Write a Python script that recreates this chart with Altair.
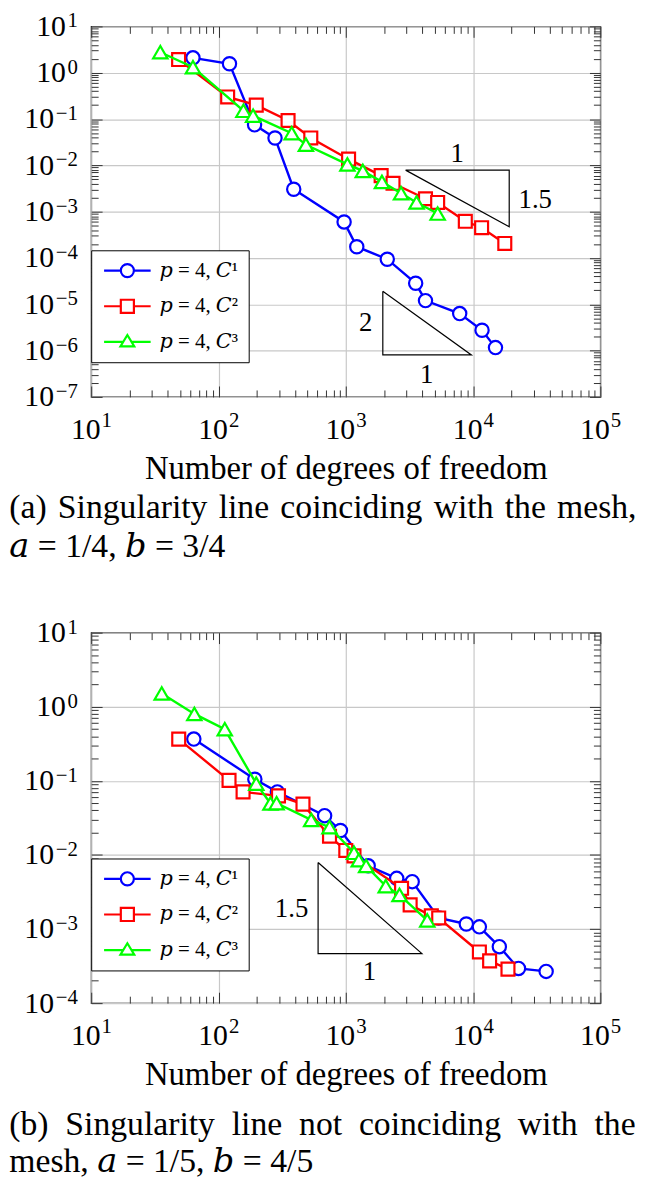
import altair as alt
import pandas as pd

FONT = "Liberation Serif, DejaVu Serif"

SERIES = ["𝑝 = 4, 𝐶¹", "𝑝 = 4, 𝐶²", "𝑝 = 4, 𝐶³"]
COLORS = ["#0000ff", "#ff0000", "#00ff00"]
SHAPES = ["circle", "square", "triangle-up"]
SIZES = [180, 170, 210]

# ---------------- panel (a) ----------------
A_C1_DOF = [63, 122, 192, 278, 390, 970, 1220, 2118, 3540, 4228, 7850, 11760, 15000]
A_C1_ERR = [2.1, 1.56, 0.075, 0.039, 0.00305, 6.0e-4, 1.75e-4, 9.4e-5, 2.84e-5, 1.2e-5, 6.3e-6, 2.75e-6, 1.16e-6]
A_C2_DOF = [48.6, 118, 198, 352, 531, 1052, 1896, 2350, 4228, 5270, 8690, 11670, 17750]
A_C2_ERR = [1.93, 0.30, 0.20, 0.093, 0.039, 0.0136, 0.006, 0.0041, 0.0019, 0.00158, 6.2e-4, 4.5e-4, 2.06e-4]
A_C3_DOF = [34.9, 63, 157, 187, 376, 486, 1030, 1361, 1924, 2718, 3597, 5270]
A_C3_ERR = [2.77, 1.32, 0.151, 0.118, 0.0496, 0.0279, 0.0105, 0.0076, 0.0044, 0.0025, 0.00158, 9.1e-4]

A_TRI_ID = ["t1", "t1", "t1", "t1", "t2", "t2", "t2", "t2"]
A_TRI_X = [2950, 19230, 19230, 2950, 1954, 1954, 9700, 1954]
A_TRI_Y = [0.00789, 0.00789, 0.00047, 0.00789, 1.91e-5, 8.05e-7, 8.05e-7, 1.91e-5]
A_TRI_TEXT = ["1", "1.5", "2", "1"]
A_TRI_TEXT_X = [7500, 30800, 1435, 4325]
A_TRI_TEXT_Y = [0.0179, 0.0018, 3.96e-6, 3.0e-7]

A_CAPTION = ["(a)\u200a Singularity\u200a line\u200a coinciding\u200a with\u200a the\u200a mesh,",
             "𝑎 = 1/4, 𝑏 = 3/4"]

# ---------------- panel (b) ----------------
B_C1_DOF = [64, 193, 290, 682, 908, 1500, 2512, 3325, 5370, 8850, 11210, 16080, 22740, 37500]
B_C1_ERR = [0.366, 0.105, 0.071, 0.0339, 0.0214, 0.00713, 0.00483, 0.00436, 0.00141, 0.00117, 0.00107, 5.78e-4, 2.94e-4, 2.68e-4]
B_C2_DOF = [48.7, 121, 156, 296, 461, 745, 1000, 1160, 2743, 3204, 4700, 5370, 11210, 13490, 18800]
B_C2_ERR = [0.366, 0.1016, 0.071, 0.0627, 0.0485, 0.0179, 0.0115, 0.0097, 0.00355, 0.00212, 0.00151, 0.00141, 4.9e-4, 3.72e-4, 2.88e-4]
B_C3_DOF = [35.8, 64.6, 112, 198, 256, 286, 535, 745, 1160, 1265, 1445, 2060, 2643, 4365]
B_C3_ERR = [1.51, 0.80, 0.498, 0.0917, 0.0495, 0.05, 0.0297, 0.0237, 0.0107, 0.0085, 0.0071, 0.0038, 0.00289, 0.00131]

B_TRI_ID = ["t1", "t1", "t1", "t1"]
B_TRI_X = [606, 606, 3963, 606]
B_TRI_Y = [0.0079, 0.000466, 0.000466, 0.0079]
B_TRI_TEXT = ["1.5", "1"]
B_TRI_TEXT_X = [375, 1535]
B_TRI_TEXT_Y = [0.00188, 0.00026]

B_CAPTION = ["(b)\u2005 Singularity\u2005 line\u2005 not\u2005 coinciding\u2005 with\u2005 the",
             "mesh, 𝑎 = 1/5, 𝑏 = 4/5"]

# ---------------- axes ----------------
X_DOMAIN = [10, 1e5]
X_EXPONENTS = ["1", "2", "3", "4", "5"]
A_Y_EXPONENTS = ["−7", "−6", "−5", "−4", "−3", "−2", "−1", "0", "1"]
B_Y_EXPONENTS = ["−4", "−3", "−2", "−1", "0", "1"]
TICK_BASE = "10"

W, H = 514, 374
GRID = "#c8c8c8"
TICK_COLOR = "#333333"
MAJOR_LEN, MINOR_LEN = 11, 7
BASE_FS, EXP_FS = 30, 21
EXP_W_POS, EXP_W_NEG = 11, 23

# legend symbols: line with marker (custom paths, unit = sqrt(size)/2 px)
C, R = 2.133, 0.88
LEG_PATHS = [
    f"M-1,0L{C-R:.3f},0M{C+R:.3f},0L5.267,0M{C+R:.3f},0A{R},{R} 0 1 1 {C-R:.3f},0A{R},{R} 0 1 1 {C+R:.3f},0Z",
    f"M-1,0L{C-R:.3f},0M{C+R:.3f},0L5.267,0M{C-R:.3f},{-R}L{C+R:.3f},{-R}L{C+R:.3f},{R}L{C-R:.3f},{R}Z",
    f"M-1,0L1.563,0M2.703,0L5.267,0M{C},-0.93L3.063,0.6L1.203,0.6Z",
]


def majors(lo, hi):
    return [10.0 ** e for e in range(lo, hi + 1)]


def minors(lo, hi):
    return [m * 10.0 ** e for e in range(lo, hi) for m in range(2, 10)]


def exp_expr(labels, lo):
    arr = ",".join("'" + s + "'" for s in labels)
    return f"[{arr}][round(log(datum.value)/LN10) - ({lo})]"


def tick_axis(orient, values, length):
    return alt.Axis(orient=orient, values=values, labels=False, grid=False, domain=False,
                    ticks=True, tickSize=length, offset=-length, tickColor=TICK_COLOR,
                    tickWidth=1, title=None, minExtent=0)


def label_axis(orient, values, expr, size, padding, offset, align, baseline, grid=False, title=None):
    kw = dict(orient=orient, values=values, labelExpr=expr, grid=grid, ticks=False, domain=False,
              labelFont=FONT, labelFontSize=size, labelColor="black", labelPadding=padding,
              labelOffset=offset, labelAlign=align, labelBaseline=baseline,
              labelFlush=False, labelOverlap=False, labelBound=False, minExtent=0)
    if grid:
        kw.update(gridColor=GRID, gridWidth=1.2)
    if title:
        kw.update(title=title, titleFont=FONT, titleFontSize=33, titleFontWeight="normal",
                  titleColor="black", titlePadding=8)
    else:
        kw.update(title=None)
    return alt.Axis(**kw)


def panel(series, y_lo, y_hi, y_exps, tri, tri_text, legend_y, caption, cap_x, cap_y, cap_lh):
    xs = alt.Scale(type="log", domain=X_DOMAIN, nice=False)
    ys = alt.Scale(type="log", domain=[10.0 ** y_lo, 10.0 ** y_hi], nice=False)
    xmaj, xmin = majors(1, 5), minors(1, 5)
    ymaj, ymin = majors(y_lo, y_hi), minors(y_lo, y_hi)
    y_pos = [v for v in ymaj if v >= 1]
    y_neg = [v for v in ymaj if v < 1]

    base_w = BASE_FS  # two digits, 0.5em each
    x_base = label_axis("bottom", xmaj, f"'{TICK_BASE}'", BASE_FS, 42, -(EXP_W_POS + 1) / 2,
                        "center", "alphabetic", title="Number of degrees of freedom")
    x_exp = label_axis("bottom", xmaj, exp_expr(X_EXPONENTS, 1), EXP_FS, 30,
                       base_w / 2 - (EXP_W_POS + 1) / 2 + 1, "left", "alphabetic", grid=True)
    y_base_pos = label_axis("left", y_pos, f"'{TICK_BASE}'", BASE_FS, 14 + EXP_W_POS + 1, 0,
                            "right", "middle")
    y_base_neg = label_axis("left", y_neg, f"'{TICK_BASE}'", BASE_FS, 14 + EXP_W_NEG + 1, 0,
                            "right", "middle")
    y_exp = label_axis("left", ymaj, exp_expr(y_exps, y_lo), EXP_FS, 14, -5.5, "right", "middle",
                       grid=True)

    # (x axis, y axis) carried by each layer
    carriers = [
        (x_base, y_base_pos),
        (x_exp, y_base_neg),
        (tick_axis("bottom", xmaj, MAJOR_LEN), y_exp),
        (tick_axis("bottom", xmin, MINOR_LEN), tick_axis("left", ymaj, MAJOR_LEN)),
        (tick_axis("top", xmaj, MAJOR_LEN), tick_axis("left", ymin, MINOR_LEN)),
        (tick_axis("top", xmin, MINOR_LEN), tick_axis("right", ymaj, MAJOR_LEN)),
        (None, tick_axis("right", ymin, MINOR_LEN)),
    ]

    layers = []
    for (dof, err), color, shape, size, (xa, ya) in zip(series, COLORS, SHAPES, SIZES, carriers[:3]):
        df = pd.DataFrame({"dof": dof, "err": err, "i": list(range(len(dof)))})
        layers.append(
            alt.Chart(df).mark_line(
                color=color, strokeWidth=2.4,
                point=alt.OverlayMarkDef(shape=shape, filled=False, fill="white", stroke=color,
                                         size=size, strokeWidth=2.2, opacity=1),
            ).encode(
                x=alt.X("dof:Q", scale=xs, axis=xa),
                y=alt.Y("err:Q", scale=ys, axis=ya),
                order="i:Q",
            )
        )

    leg = alt.Legend(orient="none", legendX=0, legendY=legend_y, title=None, padding=10,
                     strokeColor="black", fillColor="white", cornerRadius=0,
                     labelFont=FONT, labelFontSize=21, labelColor="black", labelOffset=38,
                     labelLimit=0, symbolSize=225, symbolStrokeWidth=2.2, symbolOpacity=1,
                     rowPadding=13, direction="vertical")
    leg_df = pd.DataFrame({"series": SERIES, "dof": [100, 100, 100], "err": [1, 1, 1]})
    xa, ya = carriers[3]
    layers.append(
        alt.Chart(leg_df).transform_filter("false").mark_point(filled=False, strokeWidth=2.2).encode(
            x=alt.X("dof:Q", scale=xs, axis=xa),
            y=alt.Y("err:Q", scale=ys, axis=ya),
            stroke=alt.Stroke("series:N", scale=alt.Scale(domain=SERIES, range=COLORS), legend=leg),
            shape=alt.Shape("series:N", scale=alt.Scale(domain=SERIES, range=LEG_PATHS), legend=leg),
        )
    )

    tri_id, tri_x, tri_y = tri
    tdf = pd.DataFrame({"tri": tri_id, "dof": tri_x, "err": tri_y, "k": list(range(len(tri_x)))})
    xa, ya = carriers[4]
    layers.append(
        alt.Chart(tdf).mark_line(color="black", strokeWidth=1.2).encode(
            x=alt.X("dof:Q", scale=xs, axis=xa),
            y=alt.Y("err:Q", scale=ys, axis=ya),
            detail="tri:N", order="k:Q",
        )
    )

    txt, tx, ty = tri_text
    ldf = pd.DataFrame({"t": txt, "dof": tx, "err": ty})
    xa, ya = carriers[5]
    layers.append(
        alt.Chart(ldf).mark_text(font=FONT, fontSize=27, color="black").encode(
            x=alt.X("dof:Q", scale=xs, axis=xa),
            y=alt.Y("err:Q", scale=ys, axis=ya),
            text="t:N",
        )
    )

    xa, ya = carriers[6]
    layers.append(
        alt.Chart(leg_df).transform_filter("false").mark_point().encode(
            x=alt.X("dof:Q", scale=xs, axis=xa),
            y=alt.Y("err:Q", scale=ys, axis=ya),
        )
    )

    layers.append(
        alt.Chart(pd.DataFrame({"c": [0]})).mark_text(
            text=caption, align="left", baseline="alphabetic", font=FONT, fontSize=34,
            lineHeight=cap_lh, color="black",
        ).encode(x=alt.value(cap_x), y=alt.value(cap_y))
    )

    return alt.layer(*layers).resolve_axis(x="independent", y="independent").properties(width=W, height=H)


panel_a = panel(
    [(A_C1_DOF, A_C1_ERR), (A_C2_DOF, A_C2_ERR), (A_C3_DOF, A_C3_ERR)],
    -7, 1, A_Y_EXPONENTS,
    (A_TRI_ID, A_TRI_X, A_TRI_Y), (A_TRI_TEXT, A_TRI_TEXT_X, A_TRI_TEXT_Y),
    226, A_CAPTION, -82.7, 496, 40,
)
panel_b = panel(
    [(B_C1_DOF, B_C1_ERR), (B_C2_DOF, B_C2_ERR), (B_C3_DOF, B_C3_ERR)],
    -4, 1, B_Y_EXPONENTS,
    (B_TRI_ID, B_TRI_X, B_TRI_Y), (B_TRI_TEXT, B_TRI_TEXT_X, B_TRI_TEXT_Y),
    228, B_CAPTION, -82.7, 507, 37,
)

chart = (
    alt.vconcat(panel_a, panel_b, spacing=50)
    .resolve_scale(stroke="independent", shape="independent")
    .resolve_legend(stroke="independent", shape="independent")
    .properties(padding={"top": -5, "left": 0, "right": 0, "bottom": 0})
    .configure_view(stroke="black", strokeWidth=1.3)
)

chart.save("out.html", embed_options={"renderer": "svg", "actions": False})
